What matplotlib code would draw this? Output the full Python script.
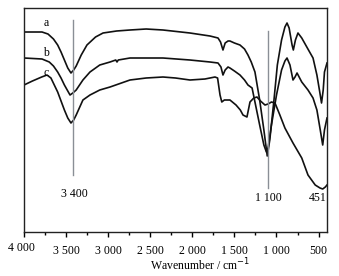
import matplotlib
matplotlib.use("Agg")
import matplotlib.pyplot as plt
from matplotlib.ticker import MultipleLocator
from matplotlib.transforms import ScaledTranslation

plt.rcParams['font.family'] = ['Liberation Serif', 'DejaVu Serif']

# wavenumber (cm-1) and relative transmittance (arbitrary units)
wn_a = [4000, 3786, 3715, 3650, 3600, 3560, 3520, 3480, 3442, 3410, 3380, 3320, 3252, 3150, 3061,
        2900, 2741, 2549, 2349, 2028, 1790, 1695, 1665, 1636, 1610, 1576, 1553, 1500, 1434, 1380,
        1339, 1300, 1256, 1200, 1150, 1110, 1080, 1030, 990, 940, 900, 875, 850, 815, 800, 775,
        745, 700, 620, 566, 520, 490, 465, 445, 430, 400]
t_a = [200, 200, 198, 193, 187, 180, 172, 164, 159, 162, 166, 177, 187, 195, 199,
       201, 202, 203, 202, 199, 196, 194, 190, 182, 189, 191, 191, 189, 187, 183,
       177, 170, 160, 132, 102, 76, 92, 132, 167, 192, 205, 209, 204, 187, 182, 192,
       199, 194, 182, 174, 157, 142, 129, 142, 160, 169]

wn_b = [4000, 3786, 3700, 3650, 3600, 3560, 3520, 3480, 3453, 3420, 3380, 3300, 3216, 3100, 2978,
        2910, 2895, 2880, 2741, 2349, 2028, 1790, 1695, 1660, 1636, 1610, 1576, 1553, 1500, 1434,
        1380, 1339, 1290, 1256, 1200, 1150, 1120, 1100, 1060, 1000, 940, 900, 875, 840, 804, 780,
        756, 700, 626, 566, 520, 480, 451, 430, 400]
t_b = [174, 173, 170, 166, 160, 154, 147, 141, 137, 139, 142, 152, 160, 167, 170,
       172, 170, 172, 174, 174, 172, 170, 169, 165, 157, 162, 165, 164, 161, 157,
       152, 147, 144, 130, 107, 87, 80, 84, 107, 137, 162, 171, 174, 167, 152, 155,
       159, 150, 142, 134, 122, 102, 87, 102, 114]

wn_c = [4000, 3900, 3790, 3727, 3680, 3640, 3600, 3560, 3520, 3480, 3442, 3410, 3380, 3300, 3216,
        3100, 2978, 2741, 2549, 2349, 2200, 2028, 1850, 1731, 1700, 1671, 1650, 1620, 1600, 1553,
        1481, 1430, 1398, 1351, 1315, 1270, 1232, 1190, 1137, 1100, 1060, 1018, 960, 900, 804,
        700, 626, 540, 483, 451, 420, 400]
t_c = [147, 151, 155, 157, 154, 147, 140, 131, 122, 114, 109, 112, 117, 132, 137,
       142, 145, 152, 154, 155, 154, 152, 153, 155, 154, 137, 130, 132, 132, 132,
       127, 122, 117, 115, 130, 134, 135, 131, 127, 128, 130, 129, 117, 104, 89,
       74, 57, 47, 44, 43, 45, 47]

curve_labels = ['a', 'b', 'c']
label_pos = [(3740, 209), (3740, 179), (3740, 159)]

peak_wn = [3420, 1100]
peak_span = [(57, 212), (44, 201)]
peak_text = ['3 400', '1 100', '451']
peak_text_wn = [3400, 1100, 451]

xticks = [4000, 3500, 3000, 2500, 2000, 1500, 1000, 500]
xtick_labels = ['4 000', '3 500', '3 000', '2 500', '2 000', '1 500', '1 000', '500']

fig = plt.figure(figsize=(3.39, 2.76), dpi=100)
ax = fig.add_axes([0.0708, 0.1594, 0.8938, 0.8116])

for wn, t in [(wn_a, t_a), (wn_b, t_b), (wn_c, t_c)]:
    ax.plot(wn, t, color='#111111', lw=1.2, solid_joinstyle='round')

for (x0, y0), lab in zip(label_pos, curve_labels):
    ax.text(x0, y0, lab, fontsize=8.5, ha='center', va='center')

for w, (y0, y1) in zip(peak_wn, peak_span):
    ax.plot([w, w], [y0, y1], color='#8a8f96', lw=1.0)

ax.text(peak_text_wn[0], 38, peak_text[0], fontsize=8.5, ha='center', va='center')
ax.text(peak_text_wn[1], 34, peak_text[1], fontsize=8.5, ha='center', va='center')
ax.text(peak_text_wn[2] + 60, 34, peak_text[2], fontsize=8.5, ha='center', va='center')

ax.set_xlim(4000, 400)
ax.set_ylim(0, 224)
ax.set_yticks([])
ax.set_xticks(xticks)
ax.set_xticklabels(xtick_labels, fontsize=8.5)
ax.xaxis.set_minor_locator(MultipleLocator(250))
ax.tick_params(axis='x', which='major', direction='out', length=3.5, width=1.0, pad=5.5)
ax.tick_params(axis='x', which='minor', direction='out', length=2.0, width=1.0)
first = ax.xaxis.get_major_ticks()[0].label1
first.set_transform(first.get_transform() + ScaledTranslation(-3 / 100, 3 / 100, fig.dpi_scale_trans))

for s in ax.spines.values():
    s.set_linewidth(1.0)
    s.set_color('#222222')

ax.set_xlabel('Wavenumber / cm$^{-1}$', fontsize=8.5)
ax.xaxis.set_label_coords(0.58, -0.11)

fig.savefig('out.png', dpi=100)
